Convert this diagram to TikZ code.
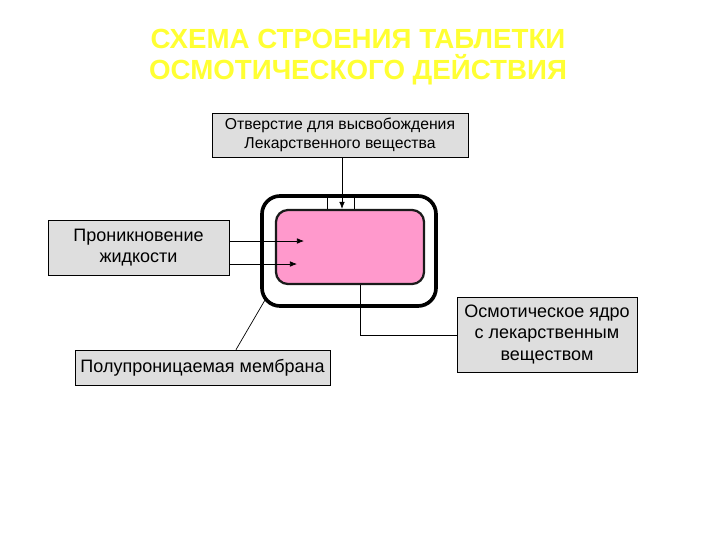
\documentclass[tikz,border=0pt]{standalone}
\usepackage{fontspec}
\setmainfont{Liberation Sans}
\usetikzlibrary{arrows.meta, positioning, calc}
\definecolor{ttyellow}{HTML}{FFFF33}
\definecolor{tbgray}{HTML}{DEDEDE}
\definecolor{tbpink}{HTML}{FF99CC}
\definecolor{tbdark}{HTML}{1A1A1A}

\begin{document}
\begin{tikzpicture}[
  x=0.025cm, y=-0.025cm,
  every node/.style={font=\fontsize{12.8}{15.3}\selectfont},
  label box/.style={rectangle, draw=black, line width=0.5pt, fill=tbgray, inner sep=1pt, align=center},
  pointer/.style={-{Latex[length=5pt, width=4pt]}, line width=0.5pt},
  leader/.style={line width=0.5pt},
]
\useasboundingbox (0,0) rectangle (720,540);

% title
\node[font=\fontsize{19.7}{22}\selectfont\bfseries, text=ttyellow, align=center] (title) at (358,57)
  {СХЕМА СТРОЕНИЯ ТАБЛЕТКИ\\ОСМОТИЧЕСКОГО ДЕЙСТВИЯ};

% tablet
\draw[line width=2.6pt, rounded corners=0.45cm] (262,196) rectangle (436,306);
\node[rectangle, draw=tbdark, line width=1.6pt, fill=tbpink, rounded corners=0.3cm,
  minimum width=3.7cm, minimum height=1.85cm] (core) at (350,247) {};
\draw[leader] (327,196) -- (core.north -| 327,0);
\draw[leader] (354,196) -- (core.north -| 354,0);

% labels
\node[label box, font=\fontsize{11.2}{13.5}\selectfont, minimum width=6.4cm, minimum height=1.1cm] (hole) at (340,135)
  {Отверстие для высвобождения\\Лекарственного вещества};
\node[label box, minimum width=4.525cm, minimum height=1.375cm] (fluid) at (138.5,247.5)
  {Проникновение\\жидкости};
\node[label box, minimum width=6.375cm, minimum height=0.875cm] (membr) at (202.5,367.5)
  {Полупроницаемая мембрана};
\node[label box, minimum width=4.5cm, minimum height=1.875cm] (osmo) at (547,334.5)
  {Осмотическое ядро\\с лекарственным\\веществом};

\coordinate (in1) at (304,241);
\coordinate (in2) at (297,264);
\coordinate (shell) at (265,300);
\coordinate (bend) at (360,335);

\draw[pointer] (hole.south -| 342,0) -- (core.north -| 342,0);
\draw[pointer] (fluid.east |- in1) -- (in1);
\draw[pointer] (fluid.east |- in2) -- (in2);
\draw[leader] (membr.north -| 236,0) -- (shell);
\draw[leader] (core.south -| bend) -- (bend) -- (osmo.west |- bend);

\end{tikzpicture}
\end{document}
